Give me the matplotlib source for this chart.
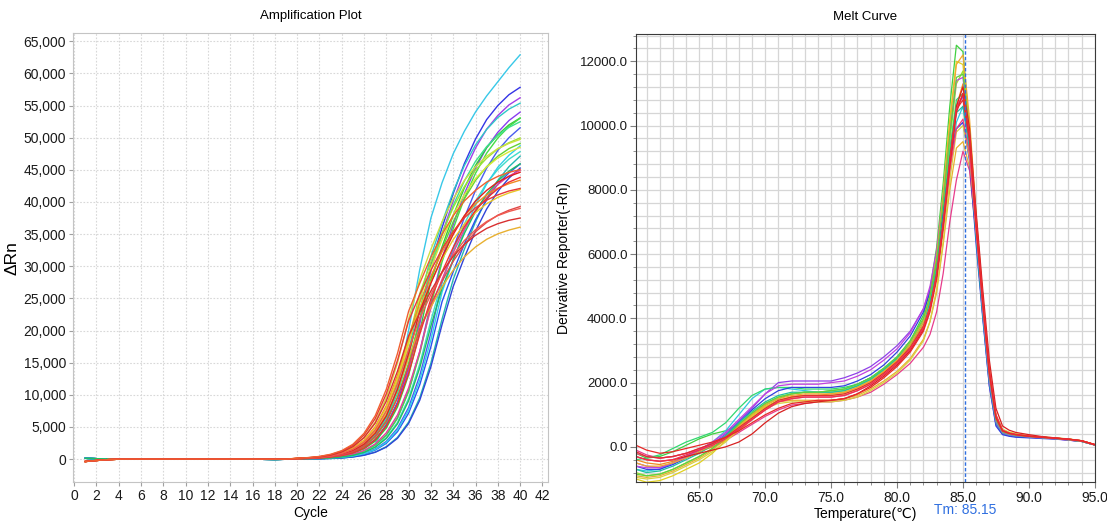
import numpy as np
import matplotlib.pyplot as plt
from matplotlib.ticker import MultipleLocator, FuncFormatter

plt.rcParams['font.family'] = ['Liberation Sans', 'DejaVu Sans']

# ---------------- amplification data ----------------
cycles = list(range(1, 41))
# cycles 1..19, all wells sit on the baseline
early_dip = [-380, -220, -90, -20, 0, 0, 0, 0, 0, 0, 0, 0, 0, 0, 0, 0, -10, -20, -10]
early_bump = [120, 60, 20, 0, 0, 0, 0, 0, 10, 0, 0, 0, 0, 0, 0, 0, -40, -60, -30]

# delta Rn for cycles 20..40
amp_curves = [
    ('#38c8e8', 'bump', [10, 20, 40, 80, 150, 350, 900, 2300, 5500, 11500, 20000, 29500, 37500, 43000, 47500, 51000, 54000, 56500, 58700, 60900, 62900]),
    ('#3434e6', 'bump', [50, 90, 170, 300, 540, 970, 1720, 3030, 5260, 8830, 14280, 21600, 30250, 36000, 41320, 45980, 49790, 52820, 55000, 56690, 57840]),
    ('#a23ee8', 'bump', [50, 90, 160, 290, 520, 940, 1680, 2940, 5120, 8580, 13880, 20990, 29400, 34990, 40160, 44690, 48390, 51330, 53450, 55100, 56210]),
    ('#2ec8c8', 'bump', [60, 120, 210, 390, 690, 1230, 2180, 3800, 6500, 10750, 16850, 24550, 31510, 36800, 41630, 45660, 48880, 51290, 53130, 54450, 55370]),
    ('#8a3cf0', 'bump', [30, 60, 120, 210, 380, 680, 1220, 2160, 3760, 6440, 10660, 16700, 24340, 31240, 36480, 41270, 45260, 48450, 50840, 52670, 53980]),
    ('#34c83c', 'bump', [40, 80, 160, 280, 490, 890, 1580, 2780, 4830, 8100, 13100, 19810, 27750, 33020, 37910, 42180, 45680, 48450, 50450, 52000, 53060]),
    ('#46dc46', 'bump', [30, 60, 120, 210, 380, 670, 1200, 2120, 3700, 6330, 10470, 16410, 23910, 30690, 35840, 40540, 44460, 47600, 49950, 51740, 53030]),
    ('#3ce08c', 'bump', [60, 110, 200, 370, 650, 1170, 2070, 3600, 6160, 10190, 15970, 23270, 29870, 34880, 39460, 43270, 46330, 48610, 50360, 51610, 52480]),
    ('#4a5cf0', 'bump', [20, 40, 80, 150, 280, 490, 880, 1570, 2750, 4790, 8030, 12980, 19640, 27500, 32730, 37570, 41800, 45270, 48020, 50000, 51540]),
    ('#9ee034', 'dip', [80, 140, 260, 460, 820, 1470, 2580, 4480, 7520, 12150, 18390, 25750, 30640, 35170, 39140, 42380, 44960, 46810, 48260, 49230, 49960]),
    ('#cce040', 'dip', [110, 190, 340, 610, 1090, 1930, 3370, 5760, 9540, 14940, 21780, 27950, 32640, 36920, 40490, 43350, 45490, 47120, 48300, 49110, 49730]),
    ('#64d232', 'bump', [60, 110, 190, 340, 610, 1090, 1930, 3370, 5760, 9540, 14940, 21780, 27950, 32640, 36920, 40490, 43350, 45490, 47120, 48300, 49110]),
    ('#40dcc8', 'bump', [30, 60, 110, 190, 340, 610, 1080, 1910, 3330, 5710, 9440, 14800, 21560, 27670, 32320, 36560, 40100, 42930, 45050, 46660, 47820]),
    ('#22b8b0', 'bump', [20, 30, 60, 110, 190, 340, 610, 1090, 1930, 3370, 5760, 9540, 14940, 21780, 27950, 32640, 36920, 40490, 43350, 45490, 47120]),
    ('#2a50f0', 'bump', [20, 40, 70, 140, 250, 440, 780, 1400, 2450, 4260, 7150, 11560, 17490, 24500, 29160, 33470, 37240, 40330, 42780, 44540, 45910]),
    ('#3044d8', 'bump', [10, 30, 50, 100, 180, 330, 590, 1050, 1860, 3230, 5540, 9160, 14360, 20920, 26850, 31360, 35480, 38910, 41650, 43710, 45280]),
    ('#30d0e8', 'bump', [20, 40, 80, 150, 260, 460, 830, 1480, 2600, 4520, 7590, 12270, 18560, 26000, 30940, 35520, 39520, 42800, 45400, 47270, 48720]),
    ('#e6409c', 'dip', [40, 70, 130, 240, 420, 750, 1340, 2350, 4090, 6860, 11090, 16780, 23500, 27970, 32100, 35720, 38680, 41030, 42720, 44040, 44930]),
    ('#20c060', 'bump', [30, 50, 100, 180, 330, 580, 1040, 1840, 3200, 5480, 9070, 14210, 20710, 26580, 31040, 35110, 38510, 41230, 43260, 44810, 45930]),
    ('#d8e838', 'dip', [80, 140, 250, 450, 800, 1430, 2500, 4350, 7300, 11800, 17850, 25000, 29750, 34150, 38000, 41150, 43650, 45450, 46850, 47800, 48500]),
    ('#f08c20', 'dip', [90, 170, 300, 530, 950, 1690, 2940, 5030, 8320, 13040, 19000, 24390, 28480, 32220, 35330, 37830, 39690, 41120, 42140, 42850, 43390]),
    ('#e8c828', 'dip', [90, 160, 290, 520, 920, 1630, 2840, 4860, 8040, 12600, 18360, 23560, 27520, 31130, 34140, 36550, 38360, 39730, 40720, 41410, 41930]),
    ('#e8b030', 'dip', [80, 140, 250, 440, 790, 1400, 2440, 4180, 6920, 10840, 15800, 20280, 23680, 26790, 29380, 31450, 33000, 34190, 35040, 35630, 36080]),
    ('#f03030', 'dip', [50, 100, 170, 310, 550, 970, 1720, 3000, 5140, 8510, 13330, 19430, 24930, 29120, 32940, 36130, 38680, 40590, 42040, 43090, 43820]),
    ('#e02020', 'dip', [70, 130, 230, 410, 740, 1310, 2300, 4000, 6720, 10860, 16420, 23000, 27370, 31420, 34960, 37860, 40160, 41810, 43100, 43980, 44620]),
    ('#e83838', 'dip', [120, 220, 380, 690, 1230, 2150, 3740, 6280, 10150, 15350, 21500, 25590, 29370, 32680, 35390, 37540, 39090, 40290, 41110, 41710, 42100]),
    ('#e04848', 'dip', [60, 110, 200, 360, 650, 1150, 2030, 3520, 5910, 9560, 14460, 20250, 24100, 27660, 30780, 33330, 35360, 36820, 37950, 38720, 39290]),
    ('#f05a50', 'dip', [80, 150, 270, 480, 860, 1520, 2640, 4520, 7480, 11720, 17080, 21920, 25600, 28960, 31760, 34000, 35680, 36960, 37880, 38520, 39000]),
    ('#d83030', 'dip', [110, 190, 340, 610, 1090, 1920, 3330, 5590, 9040, 13670, 19150, 22790, 26160, 29110, 31520, 33440, 34820, 35890, 36620, 37150, 37500]),
    ('#f06030', 'dip', [130, 230, 410, 740, 1310, 2300, 4000, 6720, 10860, 16420, 23000, 27370, 31420, 34960, 37860, 40160, 41810, 43100, 43980, 44620, 45030]),
]

# ---------------- melt curve data ----------------
melt_temp = [60.2, 61, 62, 63, 64, 65, 66, 67, 68, 69, 70, 71, 72, 73, 74, 75, 76, 77, 78, 79, 80, 81,
             82, 82.5, 83, 83.5, 84, 84.5, 85, 85.5, 86, 86.5, 87, 87.5, 88, 88.5, 89,
             90, 91, 92, 93, 94, 95]

melt_curves = [
    ('#40d040', [-200, -350, -300, -150, 50, 250, 400, 500, 700, 1000, 1300, 1500, 1650, 1700, 1700, 1750, 1800, 1950, 2150, 2450, 2800, 3300, 4100, 4900, 6200, 8200, 10600, 12500, 12300, 9800, 7000, 4500, 2300, 900, 500, 420, 380, 330, 300, 270, 230, 180, 60]),
    ('#30c8e0', [-700, -750, -700, -500, -300, -100, 150, 500, 1000, 1500, 1800, 1850, 1800, 1750, 1700, 1700, 1750, 1900, 2100, 2400, 2750, 3200, 3900, 4500, 5500, 7000, 8700, 10100, 10600, 9400, 6700, 4300, 2100, 800, 450, 380, 350, 320, 290, 260, 220, 170, 60]),
    ('#9040e8', [-500, -600, -650, -500, -300, -100, 100, 400, 800, 1200, 1650, 2000, 2050, 2050, 2050, 2050, 2150, 2300, 2500, 2800, 3150, 3600, 4300, 4900, 5900, 7400, 9200, 10600, 10900, 9300, 6500, 4100, 1900, 700, 400, 350, 320, 300, 280, 250, 210, 170, 60]),
    ('#e8b030', [-900, -950, -900, -750, -550, -350, -100, 250, 650, 1000, 1250, 1400, 1450, 1450, 1450, 1450, 1500, 1600, 1800, 2050, 2350, 2750, 3350, 3900, 4800, 6300, 8000, 9300, 9500, 8700, 6600, 4400, 2300, 950, 520, 440, 400, 340, 300, 270, 240, 190, 70]),
    ('#e83c8c', [-100, -250, -350, -300, -200, -100, 0, 200, 450, 700, 950, 1150, 1300, 1350, 1400, 1400, 1450, 1550, 1700, 1950, 2250, 2600, 3100, 3500, 4200, 5400, 7000, 8300, 9200, 8600, 6600, 4400, 2300, 900, 480, 400, 360, 320, 290, 260, 220, 170, 60]),
    ('#f08a20', [-400, -500, -550, -450, -300, -150, 0, 200, 500, 850, 1150, 1400, 1550, 1600, 1600, 1650, 1700, 1850, 2050, 2350, 2700, 3150, 3800, 4400, 5400, 7000, 8900, 10600, 11300, 9800, 7000, 4600, 2400, 950, 520, 430, 380, 330, 300, 270, 240, 190, 70]),
    ('#e0d020', [-1000, -1100, -1050, -900, -700, -500, -200, 200, 600, 950, 1250, 1450, 1550, 1600, 1600, 1600, 1650, 1800, 2000, 2300, 2650, 3150, 3900, 4700, 6000, 7900, 10200, 12000, 11900, 9900, 7100, 4600, 2400, 950, 500, 420, 380, 320, 290, 260, 230, 180, 60]),
    ('#a0e030', [-800, -900, -850, -700, -500, -300, -50, 300, 700, 1050, 1350, 1550, 1650, 1700, 1700, 1700, 1750, 1900, 2100, 2400, 2750, 3250, 3950, 4600, 5700, 7400, 9500, 11300, 11700, 9900, 7100, 4600, 2300, 900, 500, 420, 380, 330, 300, 260, 230, 180, 60]),
    ('#30d870', [-400, -350, -250, -50, 150, 300, 450, 750, 1200, 1600, 1800, 1850, 1850, 1800, 1800, 1800, 1850, 1950, 2150, 2400, 2750, 3200, 3900, 4600, 5600, 7200, 9200, 10800, 11000, 9500, 6800, 4400, 2200, 850, 470, 400, 360, 320, 290, 260, 220, 170, 60]),
    ('#3040e0', [-600, -700, -700, -550, -350, -150, 50, 350, 750, 1150, 1500, 1750, 1850, 1850, 1850, 1850, 1900, 2050, 2250, 2550, 2950, 3450, 4200, 4800, 5800, 7300, 8900, 9900, 10100, 8900, 6300, 4000, 1900, 650, 380, 330, 300, 280, 260, 240, 210, 170, 60]),
    ('#20c0a0', [-700, -800, -750, -600, -400, -200, 50, 350, 750, 1100, 1400, 1600, 1700, 1700, 1700, 1700, 1750, 1900, 2100, 2400, 2750, 3200, 3900, 4500, 5500, 7100, 9000, 10400, 10600, 9200, 6500, 4100, 2000, 750, 430, 370, 340, 310, 280, 250, 220, 170, 60]),
    ('#c040e0', [-600, -650, -650, -500, -300, -100, 150, 450, 850, 1250, 1650, 1900, 1950, 1950, 1950, 2000, 2050, 2200, 2400, 2700, 3050, 3550, 4300, 5000, 6100, 7800, 9800, 11400, 11500, 9700, 6800, 4300, 2100, 800, 450, 380, 350, 310, 280, 250, 210, 170, 60]),
    ('#f0a830', [-500, -600, -600, -500, -350, -150, 50, 300, 650, 1000, 1300, 1500, 1600, 1650, 1650, 1650, 1700, 1850, 2050, 2350, 2700, 3200, 3900, 4700, 5900, 7800, 10000, 11900, 12200, 10200, 7200, 4700, 2400, 950, 520, 430, 390, 330, 300, 270, 240, 190, 70]),
    ('#d8d040', [-950, -1000, -950, -800, -600, -400, -150, 150, 550, 900, 1200, 1350, 1400, 1400, 1400, 1400, 1450, 1550, 1750, 2000, 2300, 2700, 3300, 3900, 4900, 6400, 8300, 9800, 10000, 9000, 6800, 4500, 2400, 1000, 550, 460, 410, 350, 310, 280, 250, 190, 70]),
    ('#60d040', [-850, -900, -850, -700, -500, -300, -50, 300, 700, 1050, 1350, 1550, 1650, 1700, 1700, 1750, 1800, 1950, 2150, 2450, 2800, 3300, 4000, 4700, 5800, 7600, 9700, 11500, 11600, 9800, 7000, 4500, 2200, 850, 470, 400, 360, 320, 290, 260, 220, 170, 60]),
    ('#f04080', [-200, -300, -350, -300, -200, -50, 100, 300, 550, 850, 1150, 1400, 1500, 1550, 1550, 1550, 1600, 1750, 1950, 2250, 2600, 3050, 3700, 4300, 5300, 6800, 8600, 9900, 10200, 9100, 6700, 4400, 2300, 950, 500, 420, 380, 330, 300, 270, 230, 180, 60]),
    ('#d82020', [-300, -400, -450, -400, -300, -200, -100, 0, 150, 400, 750, 1050, 1250, 1350, 1400, 1450, 1500, 1650, 1900, 2200, 2550, 3000, 3650, 4300, 5300, 6900, 8900, 10600, 11200, 9900, 7300, 4900, 2700, 1200, 650, 520, 450, 380, 320, 280, 240, 190, 70]),
    ('#e03030', [-150, -300, -350, -300, -200, -50, 100, 300, 600, 900, 1200, 1450, 1550, 1600, 1600, 1600, 1650, 1800, 2000, 2300, 2650, 3100, 3750, 4350, 5400, 7000, 8900, 10500, 10800, 9500, 6900, 4500, 2350, 950, 500, 420, 380, 330, 300, 270, 240, 190, 70]),
    ('#f03050', [-300, -400, -450, -400, -250, -100, 50, 250, 550, 850, 1150, 1400, 1500, 1550, 1550, 1550, 1600, 1750, 1950, 2250, 2600, 3050, 3700, 4300, 5300, 6900, 8800, 10500, 11000, 9700, 7000, 4600, 2400, 1000, 520, 430, 390, 340, 300, 270, 240, 190, 70]),
    ('#e82828', [50, -100, -200, -150, -50, 50, 150, 300, 500, 750, 1000, 1200, 1350, 1400, 1450, 1450, 1500, 1650, 1850, 2150, 2500, 2950, 3600, 4200, 5200, 6800, 8700, 10400, 11000, 9600, 6900, 4500, 2300, 900, 500, 420, 380, 330, 300, 270, 240, 190, 70]),
]
tm_value = 85.15

fig = plt.figure(figsize=(11.07, 5.23), dpi=100)
ax1 = fig.add_axes([0.066, 0.078, 0.429, 0.859])
ax2 = fig.add_axes([0.5745, 0.078, 0.4145, 0.857])

# ---- left: amplification plot ----
for color, start, vals in amp_curves:
    early = early_dip if start == 'dip' else early_bump
    ax1.plot(cycles, early + vals, color=color, lw=1.0)

ax1.set_xlim(-0.1, 42.5)
ax1.set_ylim(-3600, 66300)
ax1.xaxis.set_major_locator(MultipleLocator(2))
ax1.yaxis.set_major_locator(MultipleLocator(5000))
ax1.yaxis.set_major_formatter(FuncFormatter(lambda v, p: f'{int(v):,}'))
ax1.grid(True, color='#d8d8d8', ls=(0, (1.5, 1.5)), lw=0.8)
ax1.set_axisbelow(True)
for s in ax1.spines.values():
    s.set_color('#c4c4c4')
ax1.tick_params(colors='#a0a0a0', labelcolor='#1a1a1a', labelsize=10, length=3, pad=2)
ax1.set_title('Amplification Plot', fontsize=9.5, pad=10)
ax1.set_xlabel('Cycle', fontsize=10, labelpad=2)
ax1.set_ylabel('ΔRn', fontsize=12.5, labelpad=3)

# ---- right: melt curve ----
for color, vals in melt_curves:
    ax2.plot(melt_temp, vals, color=color, lw=0.9)

ax2.set_xlim(60.2, 95)
ax2.set_ylim(-1100, 12850)
ax2.xaxis.set_major_locator(MultipleLocator(5))
ax2.xaxis.set_minor_locator(MultipleLocator(1))
ax2.yaxis.set_major_locator(MultipleLocator(2000))
ax2.yaxis.set_minor_locator(MultipleLocator(400))
ax2.xaxis.set_major_formatter(FuncFormatter(lambda v, p: f'{v:.1f}'))
ax2.yaxis.set_major_formatter(FuncFormatter(lambda v, p: f'{v:.1f}'))
ax2.grid(True, which='both', color='#d6d6d6', lw=0.9)
ax2.set_axisbelow(True)
for s in ax2.spines.values():
    s.set_color('#3a3a3a')
ax2.tick_params(which='both', colors='#808080', labelcolor='#1a1a1a', labelsize=10, pad=2)
ax2.tick_params(axis='y', which='major', labelsize=9.5)
ax2.tick_params(which='major', length=4)
ax2.tick_params(which='minor', length=2.5)
ax2.axvline(tm_value, color='#2f6fe0', lw=1.0, ls=(0, (2.5, 1.5)))
ax2.set_title('Melt Curve', fontsize=9.5, pad=10)
ax2.set_xlabel('Temperature(℃)', fontsize=10, labelpad=2)
ax2.set_ylabel('Derivative Reporter(-Rn)', fontsize=10, labelpad=6)
ax2.annotate(f'Tm: {tm_value:.2f}', xy=(tm_value, 0), xycoords=('data', 'axes fraction'),
             xytext=(0, -15), textcoords='offset points', ha='center', va='top',
             color='#2f6fe0', fontsize=10)

fig.savefig('out.png', dpi=100)
